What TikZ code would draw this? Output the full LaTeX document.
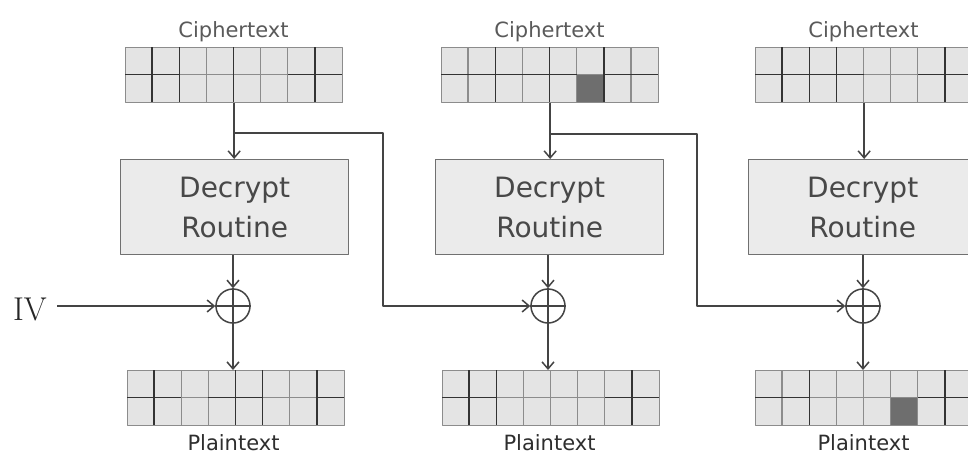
\documentclass[tikz,border=0pt]{standalone}
\usepackage{fontspec}
\newfontfamily\dejavu{DejaVu Sans}
\usetikzlibrary{arrows.meta}
\definecolor{lineclr}{HTML}{444444}
\definecolor{gridline}{HTML}{8C8C8C}
\definecolor{darkline}{HTML}{333333}
\definecolor{cellfill}{HTML}{E4E4E4}
\definecolor{shadecell}{HTML}{6E6E6E}
\definecolor{boxfill}{HTML}{EBEBEB}
\definecolor{boxline}{HTML}{707070}
\definecolor{boxtext}{HTML}{484848}
\definecolor{ciphtext}{HTML}{5A5A5A}
\definecolor{plaintxt}{HTML}{2E2E2E}
\newcommand\drawgrid[3]{%
  \begin{scope}[shift={(#1.north west)}]
    \foreach \i in {1,...,7} \draw[gridline, line width=1.3pt] (\i*27.125,0) -- (\i*27.125,-55);
    \draw[gridline, line width=1.3pt] (0,-27.5) -- (217,-27.5);
    \foreach \i in {#2} \draw[darkline, line width=1.5pt] (\i*27.125,0) -- (\i*27.125,-55);
    \foreach \j in {#3} \draw[darkline, line width=1.5pt] (\j*27.125,-27.5) -- (\j*27.125+27.125,-27.5);
  \end{scope}}
\newcommand\shadecellat[1]{%
  \fill[shadecell, shift={(#1.north west)}] (5*27.125,-27.5) rectangle (6*27.125,-55);}
\begin{document}
\begin{tikzpicture}[x=1pt,y=1pt,line join=round,
  gridbox/.style={draw=gridline, fill=cellfill, line width=1.3pt, minimum width=217pt, minimum height=55pt, inner sep=0pt, anchor=north west},
  routine/.style={draw=boxline, fill=boxfill, line width=1.4pt, minimum width=228pt, minimum height=95pt, inner sep=0pt, anchor=north west, font=\dejavu\fontsize{28}{40}\selectfont, text=boxtext, align=center},
  xorop/.style={circle, draw=lineclr, line width=1.5pt, minimum size=34pt, inner sep=0pt},
  flow/.style={draw=lineclr, line width=1.5pt, -{Straight Barb[length=7pt,width=12pt]}},
  ctlab/.style={font=\dejavu\fontsize{21}{24}\selectfont, text=ciphtext, anchor=base},
  ptlab/.style={font=\dejavu\fontsize{21}{24}\selectfont, text=plaintxt, anchor=base}]
\useasboundingbox (0,0) rectangle (968,-458);
\clip (0,0) rectangle (968,-458);
\fill[white] (0,0) rectangle (968,-458);

% ciphertext blocks
\node[gridbox] (c1) at (125,-47) {};
\node[gridbox] (c2) at (441,-47) {};
\node[gridbox] (c3) at (755,-47) {};
\shadecellat{c2}
\drawgrid{c1}{1,2,4,7}{0,1,6,7}
\drawgrid{c2}{2,4,6}{0,1,2,3,4,6,7}
\drawgrid{c3}{1,2,3,7}{0,1,2,3,6,7}
\node[ctlab] (ct1) at (233.5,-37) {Ciphertext};
\node[ctlab] (ct2) at (549.5,-37) {Ciphertext};
\node[ctlab] (ct3) at (863.5,-37) {Ciphertext};

% decrypt routines
\node[routine] (d1) at (120,-159) {Decrypt\\Routine};
\node[routine] (d2) at (435,-159) {Decrypt\\Routine};
\node[routine] (d3) at (748,-159) {Decrypt\\Routine};

% xor
\node[xorop] (x1) at (233,-306) {};
\node[xorop] (x2) at (548,-306) {};
\node[xorop] (x3) at (863,-306) {};
\foreach \n in {x1,x2,x3} {
  \draw[lineclr, line width=1.5pt] (\n.north) -- (\n.south);
  \draw[lineclr, line width=1.5pt] (\n.west) -- (\n.east);
}

% plaintext blocks
\node[gridbox] (p1) at (127,-370) {};
\node[gridbox] (p2) at (442,-370) {};
\node[gridbox] (p3) at (755,-370) {};
\shadecellat{p3}
\drawgrid{p1}{1,4,5,7}{0,1,3,4,7}
\drawgrid{p2}{1,2,7}{0,1,6,7}
\drawgrid{p3}{2,7}{0,1,6,7}
\node[ptlab] (pt1) at (233.5,-450) {Plaintext};
\node[ptlab] (pt2) at (549.5,-450) {Plaintext};
\node[ptlab] (pt3) at (863.5,-450) {Plaintext};

% IV
\node[font=\fontsize{33}{38}\selectfont, anchor=base, inner sep=0pt, text=black!85] (iv) at (30,-320) {IV};

% connectors
\draw[flow] (c1.south) -- (c1.south |- d1.north);
\draw[flow] (c2.south) -- (c2.south |- d2.north);
\draw[flow] (c3.south) -- (c3.south |- d3.north);
\draw[flow] (x1.north |- d1.south) -- (x1.north);
\draw[flow] (x2.north |- d2.south) -- (x2.north);
\draw[flow] (x3.north |- d3.south) -- (x3.north);
\draw[flow] (x1.south) -- (x1.south |- p1.north);
\draw[flow] (x2.south) -- (x2.south |- p2.north);
\draw[flow] (x3.south) -- (x3.south |- p3.north);
\coordinate (iva) at (57,-306);
\draw[flow] (iva) -- (x1.west);
\coordinate (b1) at (233.5,-133);
\coordinate (k1) at (383,-133);
\coordinate (b2) at (549.5,-134);
\coordinate (k2) at (697,-134);
\draw[flow] (b1) -- (k1) |- (x2.west);
\draw[flow] (b2) -- (k2) |- (x3.west);
\end{tikzpicture}
\end{document}
